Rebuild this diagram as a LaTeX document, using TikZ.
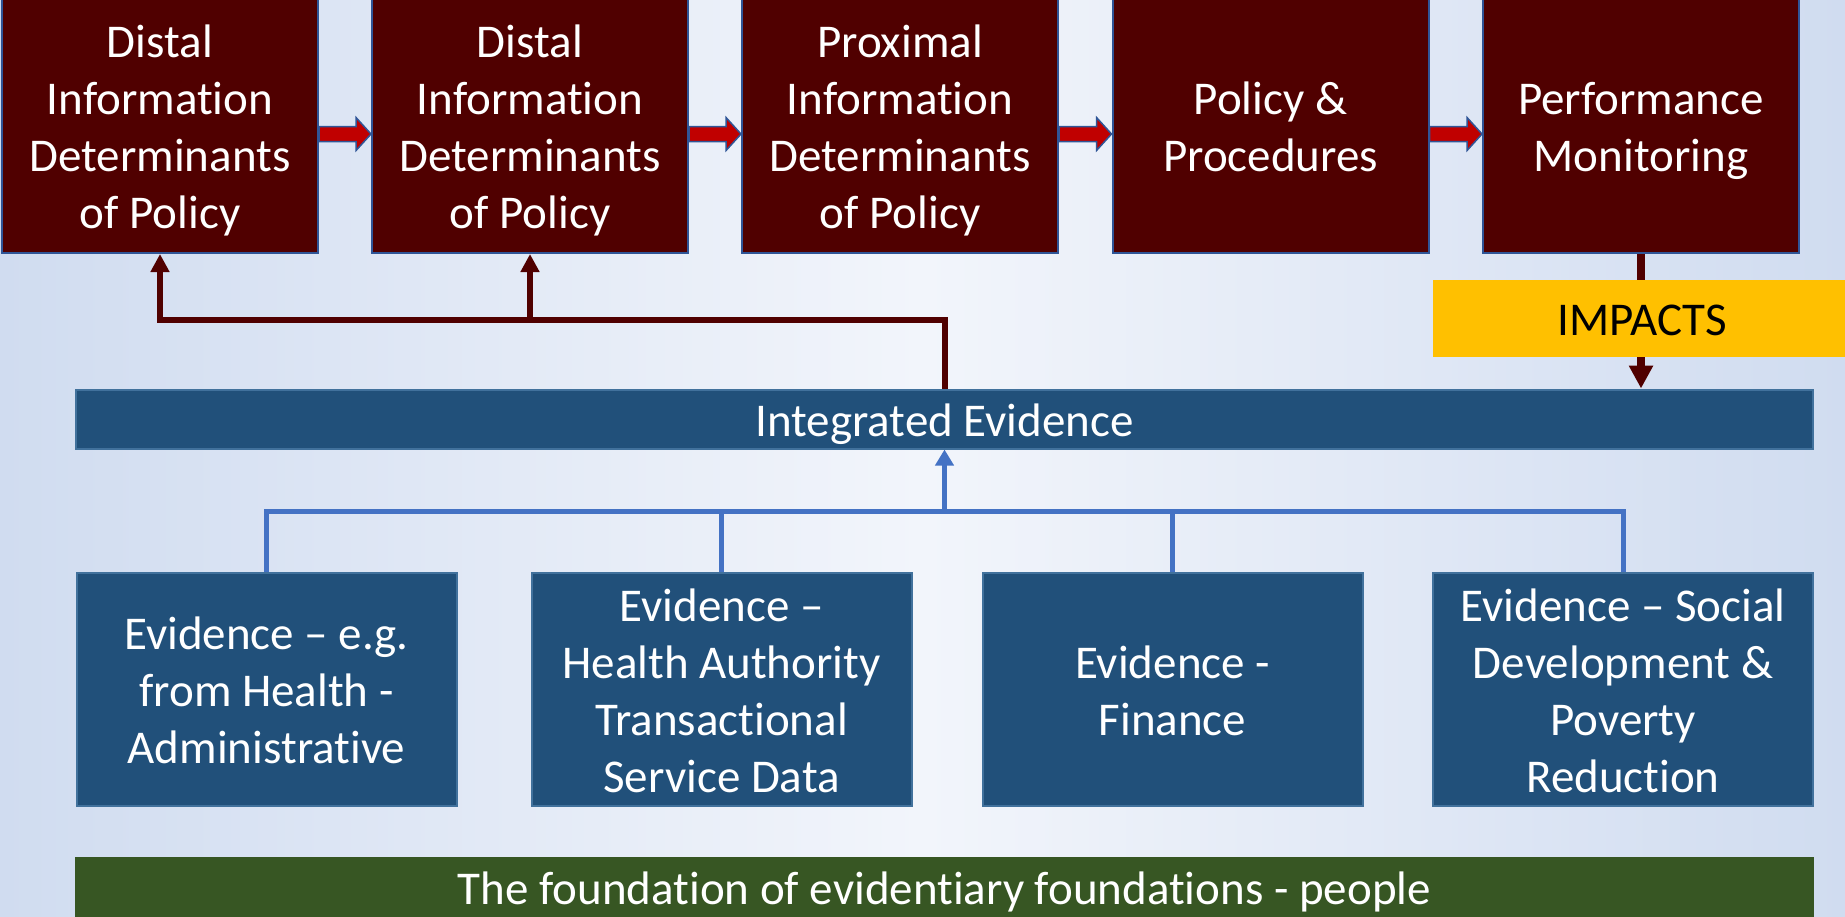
\documentclass[tikz,border=0pt]{standalone}
\usepackage{fontspec}
\setmainfont{Carlito}[Ligatures={TeX,NoCommon}]
\usetikzlibrary{arrows.meta,calc}

\definecolor{boxred}{RGB}{80,0,0}
\definecolor{flowred}{RGB}{192,0,0}
\definecolor{edgeblue}{RGB}{47,85,151}
\definecolor{evblue}{RGB}{33,80,122}
\definecolor{evedge}{RGB}{65,113,156}
\definecolor{linkblue}{RGB}{68,114,196}
\definecolor{impyellow}{RGB}{255,192,0}
\definecolor{peoplegreen}{RGB}{55,86,35}
\definecolor{bgedge}{RGB}{208,220,240}
\definecolor{bgmid}{RGB}{242,245,251}

\newcommand{\boxstrut}{\rule{0pt}{23pt}}

\tikzset{
  txt/.style={inner sep=0pt, align=center, font=\fontsize{23.5}{28.5}\selectfont,
    execute at begin node={\boxstrut},
    execute at end node={\rule[-5.9pt]{0pt}{5.9pt}}},
  upper/.style={txt, draw=edgeblue, line width=1pt, fill=boxred, text=white,
    minimum width=158pt, minimum height=127pt},
  lower/.style={txt, draw=evedge, line width=1pt, fill=evblue, text=white,
    minimum width=190pt, minimum height=116.5pt},
  bar/.style={txt, draw=evedge, line width=1pt, text=white,
    minimum width=868.5pt, minimum height=29.5pt},
  impactbox/.style={txt, fill=impyellow, text=black,
    minimum width=209pt, minimum height=38.5pt},
  flow/.style={fill=flowred, draw=edgeblue, line width=0.75pt,
    to path={let \p1=(\tikztostart), \p2=(\tikztotarget) in
      (\x1,\y1-0.25pt) -- (\x2-7.5pt,\y1-0.25pt) -- (\x2-7.5pt,\y1+4.25pt)
      -- (\x2,\y1-4pt) -- (\x2-7.5pt,\y1-12.25pt) -- (\x2-7.5pt,\y1-7.75pt)
      -- (\x1,\y1-7.75pt) -- cycle}},
  fbline/.style={draw=boxred, line width=3pt, -{Triangle[width=9pt,length=9pt]}},
  impline/.style={draw=boxred, line width=4pt, -{Triangle[width=11.5pt,length=11.5pt]}},
  evline/.style={draw=linkblue, line width=2.5pt}
}

\begin{document}
\begin{tikzpicture}[x=0.5pt,y=-0.5pt]
\useasboundingbox (0,0) rectangle (1845,916);
\shade[left color=bgedge, right color=bgedge, middle color=bgmid] (0,0) rectangle (1845,916);

\node[upper] (distal1) at (160,126) {\boxstrut Distal\\Information\\Determinants\\of Policy};
\node[upper] (distal2) at (530,126) {\boxstrut Distal\\Information\\Determinants\\of Policy};
\node[upper] (proximal) at (900,126) {\boxstrut Proximal\\Information\\Determinants\\of Policy};
\node[upper] (policy) at (1270.5,126) {\boxstrut Policy \&\\Procedures};
\node[upper] (perf) at (1641,126) {\boxstrut Performance\\Monitoring};

\node[bar, fill=evblue] (integ) at (944.5,419) {Integrated Evidence};

\node[lower] (evhealth) at (266.5,689.5) {\boxstrut Evidence – e.g.\\from Health -\\Administrative};
\node[lower] (evauth) at (721.5,689.5) {\boxstrut Evidence –\\Health Authority\\Transactional\\Service Data};
\node[lower] (evfin) at (1172.5,689.5) {\boxstrut Evidence -\\Finance};
\node[lower] (evsocial) at (1623,689.5) {\boxstrut Evidence – Social\\Development \&\\Poverty\\Reduction};

\node[bar, fill=peoplegreen, draw=peoplegreen] (people) at (944.5,887) {The foundation of evidentiary foundations - people};

\coordinate (feedback) at (944.5,320);
\coordinate (bus) at (944.5,511);

\draw[flow] (distal1.east) to (distal2.west);
\draw[flow] (distal2.east) to (proximal.west);
\draw[flow] (proximal.east) to (policy.west);
\draw[flow] (policy.east) to (perf.west);

\draw[fbline] (integ.north) -- (feedback) -| (distal2.south);
\draw[fbline] (feedback) -| (distal1.south);

\draw[impline] (perf.south) -- (perf.south |- integ.north);
\node[impactbox] (impacts) at (1642,318.5) {IMPACTS};

\draw[evline] (evhealth.north) -- (evhealth.north |- bus) -- (evsocial.north |- bus) -- (evsocial.north);
\draw[evline] (evauth.north) -- (evauth.north |- bus);
\draw[evline] (evfin.north) -- (evfin.north |- bus);
\draw[evline, -{Triangle[width=9pt,length=8pt]}] (bus) -- (integ.south);

\end{tikzpicture}
\end{document}
